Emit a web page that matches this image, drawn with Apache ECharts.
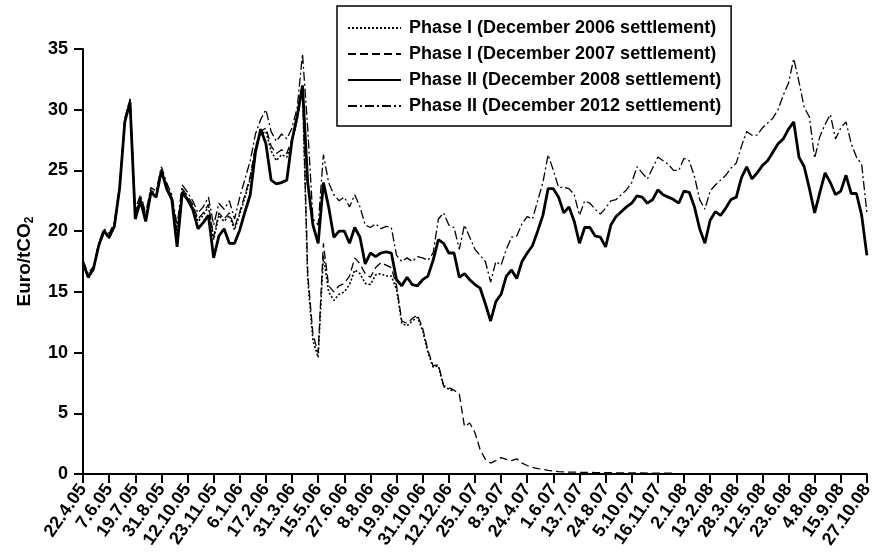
<!DOCTYPE html>
<html>
<head>
<meta charset="utf-8">
<script src="https://cdn.jsdelivr.net/npm/echarts@6/dist/echarts.min.js"></script>
<style>
  html, body { margin: 0; padding: 0; background: #fff; }
  #chart { width: 876px; height: 558px; }
</style>
</head>
<body>
<div id="chart"></div>
<script>
// Tick labels along the date axis (one every five samples)
const tickLabels = ['22.4.05','7.6.05','19.7.05','31.8.05','12.10.05','23.11.05','6.1.06','17.2.06',
  '31.3.06','15.5.06','27.6.06','8.8.06','19.9.06','31.10.06','12.12.06','25.1.07','8.3.07','24.4.07',
  '1.6.07','13.7.07','24.8.07','5.10.07','16.11.07','2.1.08','13.2.08','28.3.08','12.5.08','23.6.08',
  '4.8.08','15.9.08','27.10.08'];

const seriesNames = [
  'Phase I (December 2006 settlement)',
  'Phase I (December 2007 settlement)',
  'Phase II (December 2008 settlement)',
  'Phase II (December 2012 settlement)'
];

// Phase I, December 2006 contract (expires mid-December 2006)
const dec2006 = [
  17.3,16.1,16.8,18.7,19.9,19.4,20.3,23.4,29.0,30.6,
  21.3,22.6,21.0,23.2,22.8,24.9,23.6,22.6,19.8,23.3,
  22.7,22.0,20.8,21.3,22.0,19.3,21.3,20.8,21.3,20.1,
  21.4,22.8,24.3,26.8,28.0,28.2,26.6,25.8,26.3,26.1,
  27.3,29.2,31.7,16.0,11.0,9.6,18.0,15.0,14.3,14.8,
  15.0,15.6,16.8,16.5,15.7,15.6,16.4,16.5,16.3,16.3,
  15.2,12.4,12.2,12.6,12.9,11.8,10.0,8.8,8.9,7.2,
  7.0,6.8
];

// Phase I, December 2007 contract
const dec2007 = [
  17.5,16.3,17.0,18.9,20.1,19.6,20.5,23.6,29.2,30.8,
  21.5,22.8,21.2,23.4,23.0,25.1,23.8,22.8,20.0,23.5,
  22.9,22.2,21.0,21.5,22.2,19.5,21.5,21.0,21.5,20.3,
  21.6,23.0,24.5,27.0,28.2,28.5,27.0,26.4,26.7,26.4,
  27.6,29.5,32.0,16.5,11.5,10.0,19.0,15.5,15.0,15.5,
  15.7,16.3,17.8,17.3,16.5,16.2,17.0,17.4,17.2,17.0,
  15.5,12.6,12.4,12.8,13.1,12.0,10.2,8.9,9.0,7.3,
  7.1,6.9,6.6,3.9,4.2,3.4,2.0,1.2,0.9,1.1,
  1.35,1.2,1.1,1.25,0.9,0.7,0.55,0.45,0.38,0.3,
  0.25,0.2,0.18,0.15,0.15,0.14,0.13,0.13,0.12,0.12,
  0.11,0.11,0.1,0.1,0.1,0.09,0.09,0.09,0.08,0.08,
  0.08,0.07,0.07,0.07
];

// Phase II, December 2008 contract
const dec2008 = [
  17.4,16.2,16.9,18.8,20.0,19.5,20.4,23.5,29.0,30.6,
  21.0,22.5,20.8,23.2,22.8,25.0,23.5,22.6,18.7,23.2,
  22.6,21.8,20.2,20.7,21.3,17.8,19.6,20.2,19.0,19.0,
  20.1,21.6,23.0,26.5,28.4,27.2,24.2,23.9,24.0,24.2,
  27.5,29.5,32.0,24.0,20.5,19.0,24.0,22.0,19.5,20.0,
  20.0,19.0,20.3,19.5,17.3,18.2,17.9,18.2,18.3,18.2,
  16.0,15.5,16.2,15.6,15.5,16.0,16.3,17.6,19.3,19.0,
  18.2,18.2,16.2,16.5,16.0,15.6,15.3,14.0,12.6,14.2,
  14.8,16.3,16.8,16.1,17.5,18.2,18.8,20.0,21.3,23.5,
  23.5,22.8,21.5,22.0,20.8,19.0,20.3,20.3,19.6,19.5,
  18.7,20.5,21.2,21.6,22.0,22.3,22.9,22.8,22.3,22.6,
  23.4,23.0,22.8,22.6,22.3,23.3,23.2,22.0,20.2,19.0,
  20.9,21.6,21.3,21.9,22.6,22.8,24.4,25.3,24.3,24.8,
  25.4,25.8,26.5,27.2,27.6,28.4,29.0,26.1,25.3,23.5,
  21.5,23.2,24.8,24.0,23.0,23.3,24.6,23.1,23.1,21.3,
  18.0
];

// Phase II, December 2012 contract
const dec2012 = [
  17.6,16.5,17.1,19.0,20.2,19.8,20.7,23.8,29.3,30.9,
  21.8,23.0,21.5,23.6,23.3,25.3,24.0,23.0,20.5,23.8,
  23.2,22.5,21.5,22.0,22.8,20.5,22.3,21.8,22.5,21.0,
  22.8,24.3,25.8,28.0,29.2,30.0,28.2,27.4,28.0,27.6,
  28.5,30.2,34.6,28.5,21.0,20.5,26.3,24.0,23.0,22.5,
  22.8,22.0,23.0,22.0,20.5,20.3,20.6,20.2,20.4,20.3,
  18.0,17.5,17.8,17.5,17.9,17.8,17.6,18.2,21.0,21.5,
  20.5,20.3,18.5,20.5,19.5,18.5,18.0,17.5,15.8,17.5,
  17.2,18.5,19.5,19.6,20.6,21.2,21.0,22.5,24.0,26.3,
  25.0,23.6,23.6,23.5,23.0,21.3,22.5,22.3,21.8,21.4,
  21.9,22.5,22.6,23.0,23.4,24.0,25.3,24.8,24.3,25.2,
  26.1,25.8,25.5,25.0,25.0,26.0,25.8,24.5,22.6,21.8,
  23.3,23.8,24.2,24.6,25.2,25.6,27.0,28.2,27.9,27.9,
  28.5,28.9,29.3,30.0,31.2,32.2,34.2,32.3,30.2,29.4,
  26.0,27.8,28.8,29.6,27.6,28.5,29.0,27.2,26.1,25.5,
  21.5
];

const SAMPLES_PER_TICK = 5;
const lastIndex = (tickLabels.length - 1) * SAMPLES_PER_TICK;

function toPairs(values) {
  return values.map((v, i) => [i, v]);
}

const FONT = 'Liberation Sans';

const chart = echarts.init(document.getElementById('chart'), null, { renderer: 'canvas' });

const lineStyles = [
  { width: 1.6, type: [2, 2] },
  { width: 1.3, type: [8, 4] },
  { width: 2.8, type: 'solid' },
  { width: 1.3, type: [9, 3, 2, 3] }
];
const values = [dec2006, dec2007, dec2008, dec2012];

chart.setOption({
  animation: false,
  backgroundColor: '#ffffff',
  grid: { left: 83, right: 8, top: 49, bottom: 84, containLabel: false },
  legend: {
    orient: 'vertical',
    left: 337,
    top: 6,
    padding: [13, 10, 11, 10],
    itemWidth: 53,
    itemHeight: 14,
    itemGap: 8,
    borderColor: '#000',
    borderWidth: 1.5,
    borderRadius: 0,
    backgroundColor: '#fff',
    itemStyle: { opacity: 0 },
    textStyle: { fontFamily: FONT, fontSize: 18, lineHeight: 18, fontWeight: 'bold', color: '#000', padding: [0, 0, 0, 3] },
    data: seriesNames
  },
  xAxis: {
    type: 'value',
    min: 0,
    max: lastIndex,
    interval: SAMPLES_PER_TICK,
    axisLine: { lineStyle: { color: '#000', width: 2 } },
    axisTick: { length: 9, lineStyle: { color: '#000', width: 2 } },
    splitLine: { show: false },
    axisLabel: {
      rotate: 55,
      margin: 12,
      color: '#000',
      fontFamily: FONT,
      fontSize: 18,
      fontWeight: 'bold',
      formatter: v => tickLabels[Math.round(v / SAMPLES_PER_TICK)] || ''
    }
  },
  yAxis: {
    type: 'value',
    min: 0,
    max: 35,
    interval: 5,
    name: '{a|Euro/tCO}{s|2}',
    nameLocation: 'middle',
    nameGap: 47,
    nameRotate: 90,
    nameTextStyle: {
      rich: {
        a: { fontFamily: FONT, fontSize: 19, fontWeight: 'bold', color: '#000' },
        s: { fontFamily: FONT, fontSize: 12, fontWeight: 'bold', color: '#000', padding: [10, 0, 0, 0] }
      }
    },
    axisLine: { show: true, lineStyle: { color: '#000', width: 2 } },
    axisTick: { show: true, length: 9, lineStyle: { color: '#000', width: 2 } },
    splitLine: { show: false },
    axisLabel: { margin: 15, color: '#000', fontFamily: FONT, fontSize: 18, fontWeight: 'bold' }
  },
  series: seriesNames.map((name, k) => ({
    name,
    type: 'line',
    data: toPairs(values[k]),
    symbol: 'none',
    smooth: false,
    z: k === 2 ? 3 : 2,
    lineStyle: Object.assign({ color: '#000' }, lineStyles[k]),
    itemStyle: { color: '#000' }
  }))
});
</script>
</body>
</html>
